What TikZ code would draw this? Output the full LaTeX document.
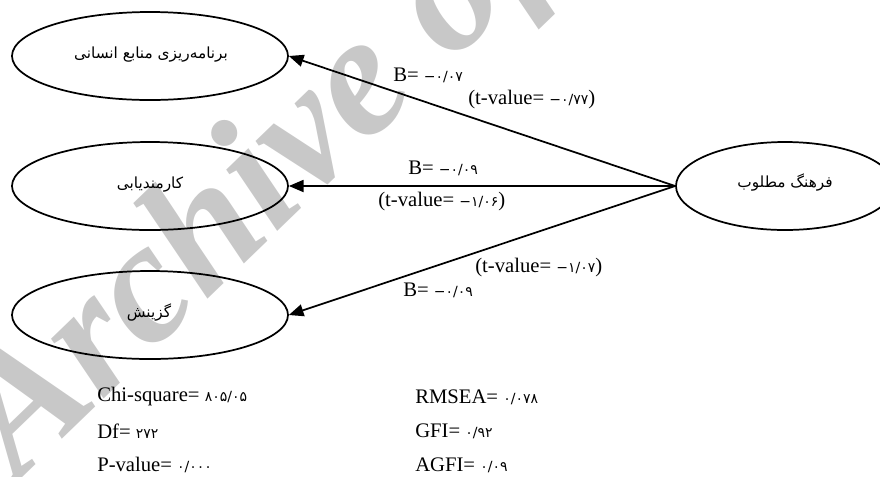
\documentclass[tikz,border=0pt]{standalone}
\usepackage{fontspec}
\setmainfont{Liberation Serif}
\newfontfamily\fafont[Script=Arabic]{DejaVu Sans}
\newfontfamily\digfont{DejaVu Sans}
\TeXXeTstate=1
\usetikzlibrary{arrows.meta,shapes.geometric}
\definecolor{wmgray}{RGB}{200,200,200}
\newcommand{\fd}[1]{{\digfont\fontsize{10.5}{12}\selectfont #1}}
\newcommand{\fa}[1]{{\fafont\fontsize{11.5}{13}\selectfont\beginR #1\endR}}
\begin{document}
\begin{tikzpicture}[x=0.75pt,y=-0.75pt,
  lat/.style={draw=black,line width=1.3pt,ellipse,minimum width=207pt,minimum height=66pt,inner sep=0pt},
  lbl/.style={anchor=west,inner sep=0pt,font=\fontsize{15.5}{18}\selectfont},
  arr/.style={line width=1.3pt,-{Triangle[length=11pt,width=9pt]}},
  wm/.style={text=wmgray,font=\fontsize{130}{135}\selectfont\bfseries\itshape,inner sep=0pt}]
\useasboundingbox (0,0) rectangle (880,476);
% watermark
\node[wm,anchor=base west,rotate=44] (wmark) at (18,482) {Archive of SID};
% ellipses
\node[lat] (e1) at (150,56) {};
\node at (151,55) {\fa{برنامه‌ریزی منابع انسانی}};
\node[lat] (e2) at (150,186) {};
\node at (150,185) {\fa{کارمندیابی}};
\node[lat] (e3) at (150,315) {};
\node at (149,312) {\fa{گزینش}};
\node[lat,minimum width=163.5pt] (f) at (785,186) {};
\node at (785,182) {\fa{فرهنگ مطلوب}};
% connectors
\draw[arr] (f.west) -- (e1.east);
\draw[arr] (f.west) -- (e2.east);
\draw[arr] (f.west) -- (e3.east);
% labels
\node[lbl] (b1) at (393,75) {B= \fd{−۰/۰۷}};
\node[lbl] (t1) at (468,100) {(t-value= \fd{−۰/۷۷})};
\node[lbl] (b2) at (408,168) {B= \fd{−۰/۰۹}};
\node[lbl] (t2) at (378,202) {(t-value= \fd{−۱/۰۶})};
\node[lbl] (t3) at (475,268) {(t-value= \fd{−۱/۰۷})};
\node[lbl] (b3) at (403,290) {B= \fd{−۰/۰۹}};
% fit statistics
\node[lbl] (s1) at (97,397) {Chi-square= \fd{۸۰۵/۰۵}};
\node[lbl] (s2) at (97,431) {Df= \fd{۲۷۲}};
\node[lbl] (s3) at (97,465) {P-value= \fd{۰/۰۰۰}};
\node[lbl] (s4) at (415,397) {RMSEA= \fd{۰/۰۷۸}};
\node[lbl] (s5) at (415,431) {GFI= \fd{۰/۹۲}};
\node[lbl] (s6) at (415,465) {AGFI= \fd{۰/۰۹}};
\end{tikzpicture}
\end{document}
